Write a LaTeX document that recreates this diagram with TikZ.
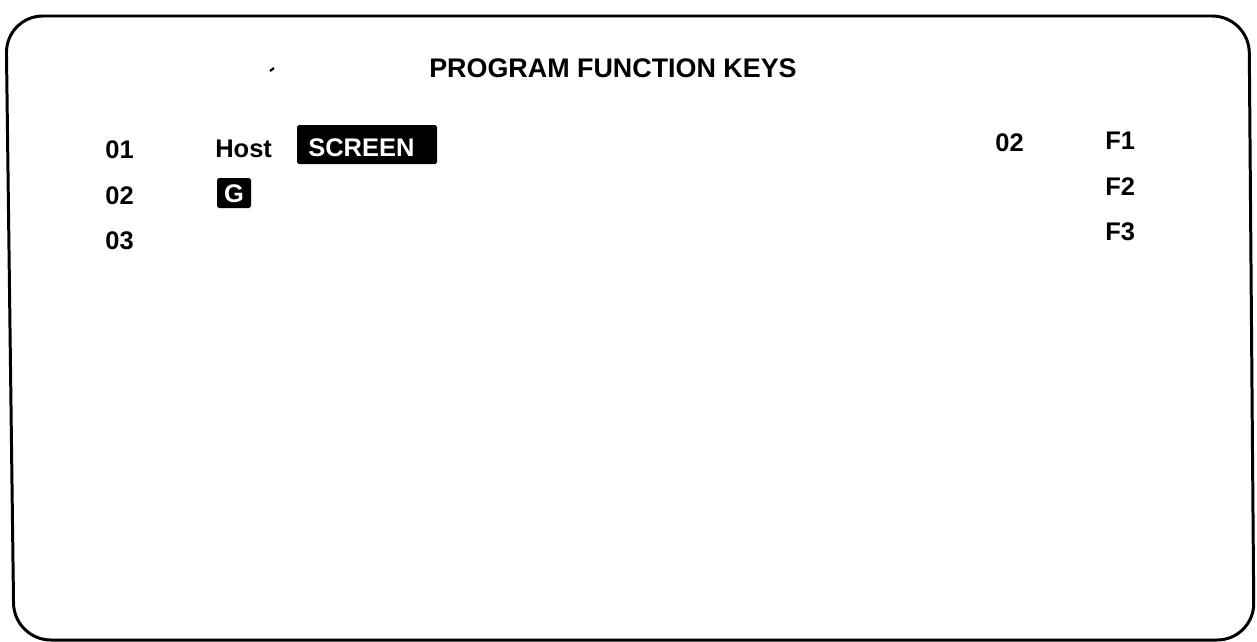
\documentclass[tikz,border=0pt]{standalone}
\usepackage{fontspec}
\setmainfont{Liberation Sans}
\begin{document}
\begin{tikzpicture}[x=0.02cm,y=-0.02cm,
  every node/.style={font=\fontsize{14.5}{17}\selectfont\bfseries,inner sep=0pt,anchor=base west},
  title/.style={font=\fontsize{15.3}{18}\selectfont\bfseries,anchor=base},
  inverse/.style={text=white},
  keybox/.style={fill=black,rounded corners=1pt}]
\useasboundingbox (0,0) rectangle (1257,642);
% screen frame
\draw[line width=1.7pt,rounded corners=21pt] (6,16) -- (1249,16) -- (1254,640) -- (14,640) -- cycle;
\draw[line width=1.2pt] (270,71) -- (274,68);
\node[title] (head) at (613,78) {PROGRAM FUNCTION KEYS};
% left column
\node (n01) at (105,158) {01};
\node (n02) at (105,204) {02};
\node (n03) at (105,249) {03};
\node (host) at (215,157) {Host};
\fill[keybox] (297,125) rectangle (437,164);
\node[inverse] (screen) at (308,156) {SCREEN};
\fill[keybox] (217,178) rectangle (251,208);
\node[inverse,anchor=base] (g) at (234,202) {G};
% right column
\node (r02) at (995,152) {02};
\node (f1) at (1105,150) {F1};
\node (f2) at (1105,195) {F2};
\node (f3) at (1105,240) {F3};
\end{tikzpicture}
\end{document}
